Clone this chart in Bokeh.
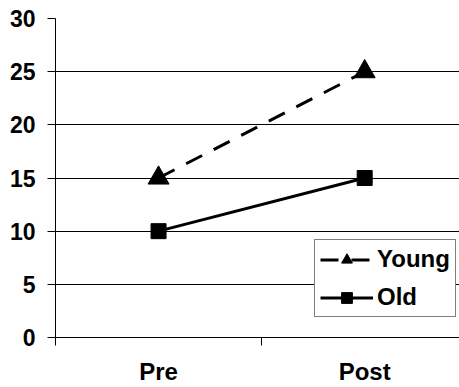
from bokeh.plotting import figure
from bokeh.models import FixedTicker, Range1d, Legend, LegendItem
from bokeh.embed import file_html
from bokeh.resources import INLINE

categories = ["Pre", "Post"]
young = [15, 25]
old = [10, 15]
y_ticks = [0, 5, 10, 15, 20, 25, 30]

xs = [i + 0.5 for i in range(len(categories))]

p = figure(width=459, height=387, output_backend="svg", toolbar_location=None,
           x_range=Range1d(0, 1.96), y_range=Range1d(0, 30),
           min_border_left=55, min_border_right=0, min_border_top=18, min_border_bottom=49)
p.outline_line_color = None
p.background_fill_color = "white"
p.border_fill_color = "white"

FONT = "Liberation Sans"

# y axis
p.yaxis.ticker = FixedTicker(ticks=y_ticks)
p.yaxis.axis_line_color = "black"
p.yaxis.major_tick_out = 8
p.yaxis.major_tick_in = 0
p.yaxis.minor_tick_line_color = None
p.yaxis.major_label_text_font = FONT
p.yaxis.major_label_text_font_style = "bold"
p.yaxis.major_label_text_font_size = "23px"
p.yaxis.major_label_text_color = "black"
p.yaxis.major_label_standoff = 12

# x axis
p.xaxis.ticker = FixedTicker(ticks=xs, minor_ticks=[0, 1, 2])
p.xaxis.major_label_overrides = {x: c for x, c in zip(xs, categories)}
p.xaxis.axis_line_color = "black"
p.xaxis.major_tick_line_color = None
p.xaxis.major_tick_out = 0
p.xaxis.major_tick_in = 0
p.xaxis.minor_tick_out = 8
p.xaxis.minor_tick_in = 0
p.xaxis.minor_tick_line_color = "black"
p.xaxis.major_label_text_font = FONT
p.xaxis.major_label_text_font_style = "bold"
p.xaxis.major_label_text_font_size = "24px"
p.xaxis.major_label_text_color = "black"
p.xaxis.major_label_standoff = 12

p.xgrid.grid_line_color = None
p.ygrid.ticker = FixedTicker(ticks=y_ticks)
p.ygrid.grid_line_color = "black"
p.ygrid.grid_line_width = 1

r1 = p.line(xs, young, line_color="black", line_width=3, line_dash="18 13")
m1 = p.scatter(xs, young, marker="triangle", size=21, fill_color="black", line_color="black")
r2 = p.line(xs, old, line_color="black", line_width=3)
m2 = p.scatter(xs, old, marker="square", size=15, fill_color="black", line_color="black")

legend = Legend(items=[LegendItem(label="Young", renderers=[r1, m1]),
                       LegendItem(label="Old", renderers=[r2, m2])],
                location=(259, 20))
legend.label_text_font = FONT
legend.label_text_font_style = "bold"
legend.label_text_font_size = "24px"
legend.label_text_color = "black"
legend.border_line_color = "black"
legend.border_line_width = 1
legend.background_fill_color = "white"
legend.background_fill_alpha = 1
legend.glyph_width = 53
legend.glyph_height = 27
legend.label_standoff = 4
legend.padding = 5
legend.spacing = 10
legend.margin = 0
p.add_layout(legend, "center")

open("out.html", "w").write(file_html(p, INLINE))
